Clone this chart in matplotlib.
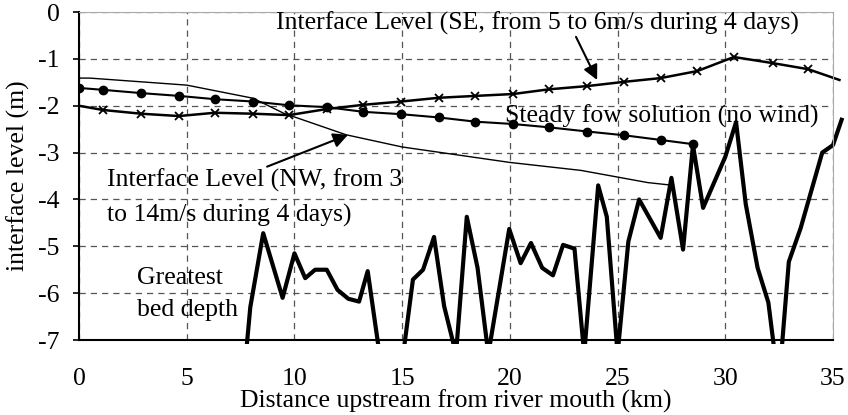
import matplotlib
matplotlib.use('Agg')
import matplotlib.pyplot as plt
from matplotlib.patches import Rectangle
import numpy as np

plt.rcParams['font.family'] = ['Liberation Serif', 'DejaVu Serif']
plt.rcParams['axes.unicode_minus'] = False

# 정상류 해 (바람 없음)
steady_x = [0, 1.1, 2.88, 4.64, 6.3, 8.08, 9.75, 11.5, 13.2, 14.95, 16.7, 18.4,
            20.15, 21.8, 23.6, 25.3, 27.0, 28.5]
steady_y = [-1.62, -1.66, -1.73, -1.79, -1.86, -1.91, -1.99, -2.03, -2.13, -2.18,
            -2.25, -2.34, -2.39, -2.46, -2.55, -2.63, -2.73, -2.82]

# SE 바람
se_x = [0, 1.1, 2.88, 4.64, 6.3, 8.08, 9.75, 11.5, 13.2, 14.95, 16.7, 18.4,
        20.15, 21.8, 23.6, 25.3, 27.0, 28.7, 30.4, 32.2, 33.85, 35.3]
se_y = [-2.0, -2.09, -2.17, -2.22, -2.15, -2.17, -2.2, -2.07, -1.98, -1.91, -1.83,
        -1.79, -1.75, -1.65, -1.58, -1.49, -1.41, -1.26, -0.96, -1.09, -1.22, -1.45]

# NW 바람
nw_x = [0, 0.5, 5, 8.08, 9.5, 12.4, 15.0, 20.0, 23.3, 26.4, 27.4]
nw_y = [-1.41, -1.41, -1.56, -1.84, -2.16, -2.62, -2.88, -3.21, -3.38, -3.64, -3.69]

# 최대 하상 깊이
bed_x = [7.75, 7.95, 8.55, 9.45, 10.0, 10.5, 10.96, 11.5, 12.0, 12.5, 13.0, 13.4,
         13.95, 14.5, 15.05, 15.5, 15.97, 16.48, 16.95, 17.5, 18.0, 18.5, 19.0,
         19.97, 20.5, 20.98, 21.5, 22.0, 22.47, 23.0, 23.45, 24.1, 24.5, 25.0,
         25.5, 26.0, 27.0, 27.5, 28.04, 28.5, 28.97, 30.0, 30.5, 30.95, 31.5,
         32.0, 32.3, 32.6, 32.95, 33.5, 34.5, 35.0, 35.4]
bed_y = [-7.3, -6.3, -4.72, -6.1, -5.15, -5.68, -5.5, -5.5, -5.93, -6.12, -6.18, -5.53,
         -7.3, -8.5, -7.3, -5.71, -5.5, -4.8, -6.28, -7.3, -4.37, -5.46, -7.3,
         -4.63, -5.36, -4.93, -5.46, -5.62, -4.97, -5.05, -7.3, -3.7, -4.37, -7.3,
         -4.9, -4.0, -4.82, -3.54, -5.07, -2.84, -4.18, -3.09, -2.35, -4.1, -5.46,
         -6.2, -7.3, -7.3, -5.33, -4.61, -3.0, -2.84, -2.3]

fig = plt.figure(figsize=(8.48, 4.15), dpi=100)
ax = fig.add_axes([0.0932, 0.1807, 0.8891, 0.7903])

# 축 밖으로 살짝 나가는 선도 보이도록
clip = Rectangle((0, -0.012), 1.03, 1.02, transform=ax.transAxes)

ln, = ax.plot(nw_x, nw_y, color='k', lw=1.0)
ln.set_clip_path(clip)
ln, = ax.plot(steady_x, steady_y, color='k', lw=1.5, marker='o', ms=6)
ln.set_clip_path(clip)
ln, = ax.plot(se_x, se_y, color='k', lw=1.8, marker='x', ms=6, mew=1.3,
              markevery=list(range(1, len(se_x) - 1)))
ln.set_clip_path(clip)
ln, = ax.plot(bed_x, bed_y, color='k', lw=3.0)
ln.set_clip_path(clip)

ax.set_xlim(0, 35)
ax.set_ylim(-7, 0)
ax.set_xticks(np.arange(0, 36, 5))
ax.set_yticks(np.arange(-7, 1, 1))
ax.grid(True, color='#555555', ls=(0, (5, 4)), lw=0.9)
ax.set_axisbelow(True)

for s in ['top', 'right']:
    ax.spines[s].set_color('#aaaaaa')
    ax.spines[s].set_linewidth(0.8)
for s in ['left', 'bottom']:
    ax.spines[s].set_linewidth(1.5)

fs = 18.5
ax.tick_params(axis='x', length=0, pad=20, labelsize=fs)
ax.tick_params(axis='y', length=4, width=1.2, pad=10, labelsize=fs)

ax.set_xlabel('Distance upstream from river mouth (km)', fontsize=fs, va='center')
ax.xaxis.set_label_coords(0.5, -0.187)
ax.set_ylabel('interface level (m)', fontsize=fs, va='center')
ax.yaxis.set_label_coords(-0.081, 0.5)

ax.text(21.26, -0.24, 'Interface Level (SE, from 5 to 6m/s during 4 days)',
        fontsize=fs, ha='center', va='center')
ax.text(19.78, -2.23, 'Steady fow solution (no wind)', fontsize=fs, ha='left', va='center')
ax.text(1.3, -3.6, 'Interface Level (NW, from 3', fontsize=fs, ha='left', va='center')
ax.text(1.3, -4.35, 'to 14m/s during 4 days)', fontsize=fs, ha='left', va='center')
ax.text(2.69, -5.67, 'Greatest', fontsize=fs, ha='left', va='center')
ax.text(2.69, -6.35, 'bed depth', fontsize=fs, ha='left', va='center')

arrow = dict(arrowstyle='-|>', mutation_scale=22, lw=1.5, color='k',
             shrinkA=0, shrinkB=0)
ax.annotate('', xy=(24.05, -1.45), xytext=(23.07, -0.53), arrowprops=arrow)
ax.annotate('', xy=(12.49, -2.62), xytext=(8.73, -3.3), arrowprops=arrow)

fig.savefig('out.png', dpi=100)
